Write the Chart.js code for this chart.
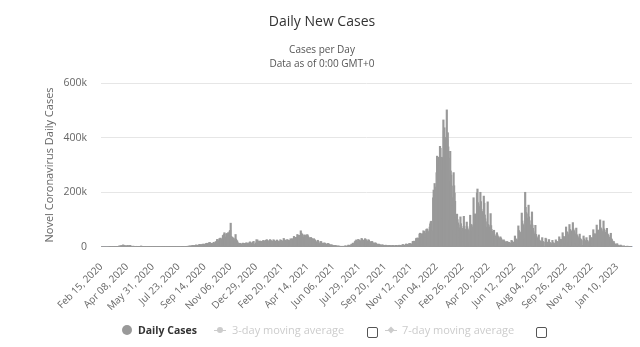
<!DOCTYPE html>
<html>
<head>
<meta charset="utf-8">
<script src="https://cdn.jsdelivr.net/npm/chart.js@4/dist/chart.umd.min.js"></script>
<style>
  html, body { margin: 0; padding: 0; background: #fff; }
  #wrap { position: relative; width: 640px; height: 347px; overflow: hidden; font-family: "Open Sans", sans-serif; }
  #c { position: absolute; left: 0; top: 0; }
  .lg { position: absolute; white-space: nowrap; font-size: 10.5px; line-height: 14px; }
  .box { position: absolute; width: 9px; height: 9px; border: 1px solid #555; border-radius: 2px; background: #fff; }
</style>
</head>
<body>
<div id="wrap">
  <canvas id="c" width="640" height="347"></canvas>
  <div class="lg" style="left:122px;top:325px;width:10px;height:10px;border-radius:50%;background:#999;"></div>
  <div class="lg" style="left:138px;top:323px;color:#333;font-weight:bold;">Daily Cases</div>
  <div class="lg" style="left:214px;top:330px;width:12px;height:1px;background:#ccc;"></div>
  <div class="lg" style="left:217px;top:327px;width:6px;height:6px;border-radius:50%;background:#ccc;"></div>
  <div class="lg" style="left:232px;top:323px;color:#ccc;font-size:11px;">3-day moving average</div>
  <div class="box" style="left:367px;top:327px;"></div>
  <div class="lg" style="left:385px;top:330px;width:12px;height:1px;background:#ccc;"></div>
  <div class="lg" style="left:388px;top:327px;width:6px;height:6px;transform:rotate(45deg) scale(0.8);background:#ccc;"></div>
  <div class="lg" style="left:402px;top:323px;color:#ccc;font-size:11px;">7-day moving average</div>
  <div class="box" style="left:536px;top:327px;"></div>
</div>
<script>
// ---- data (daily new cases, in thousands) ----
const startDate = '2020-02-15';
const cases2020 = [
  0,0,0,0,0,0,0,0,0,0,0,0,0,0,0,
  0,0,0.1,0.1,0.1,0.2,0.3,0.1,0.3,0.4,0.5,0.6,0.8,0.9,0.8,0.9,1.1,1.4,1.9,1.6,1.8,1.6,3.8,2.4,2.9,3.9,3.8,4.6,2.6,4.4,7.6,
  4.9,2.1,5.2,4.3,1.9,1.9,3.8,3.9,4.3,4.8,3.1,2.9,2.5,5.5,4.6,2.6,1.9,1.7,1.1,2.5,2.7,1.5,1.8,1.6,1.4,0.5,2.3,1.4,1.5,0.9,
  0.8,0.7,1.2,0.3,0.6,1.3,3.6,0.6,0.6,0.5,0.4,0.8,0.7,0.6,0.5,0.3,0.4,0.6,0.5,0.6,0.4,0.5,0.3,0.4,0.3,0.3,0.5,0.4,0.5,0.5,0.3,
  0.3,0.3,0.6,0.6,0.5,0.5,0.3,0.4,0.4,0.5,0.5,0.5,0.4,0.4,0.4,0.4,0.5,0.5,0.5,0.4,0.5,0.5,0.5,0.6,0.6,0.5,0.5,0.4,0.5,0.5,
  0.6,0.6,0.6,0.5,0.6,0.5,0.6,0.6,0.7,0.7,0.7,0.7,0.6,0.7,0.7,0.8,0.8,0.9,0.9,0.9,0.9,1.0,1.0,1.1,1.1,1.1,1.0,1.2,1.2,1.3,1.3,
  1.3,1.3,1.4,1.5,1.6,1.7,2.2,2.2,2.3,1.4,2.3,2.5,2.7,2.8,3.2,3.3,1.8,3.2,3.8,4.6,4.6,4.9,4.8,1.9,3.3,5.4,6.1,7.4,5.5,5.4,4.9,
  4.9,7.0,7.2,8.9,8.6,7.1,4.2,6.5,8.6,9.8,9.4,10.6,7.2,6.2,7.9,10.0,10.6,13.2,13.5,10.6,5.3,10.0,13.1,16.1,15.8,14.4,11.1,4.1,12.0,13.0,
  12.8,12.1,17.0,12.6,5.0,10.5,18.7,18.1,20.3,27.0,26.9,8.5,12.9,22.6,30.6,25.1,32.4,29.8,13.2,20.5,26.7,41.6,42.0,45.4,52.0,26.8,33.4,36.4,47.6,49.2,35.6,
  46.3,52.5,36.4,41.0,58.0,60.5,86.9,38.6,20.2,35.9,33.1,25.6,32.1,22.9,27.2,9.4,45.5,28.4,21.2,22.9,17.9,13.2,4.4,9.2,13.6,12.5,12.0,11.0,9.8,4.0,
  8.1,14.1,12.7,12.9,11.5,11.0,3.4,13.7,14.6,14.0,13.7,11.5,10.6,3.1,14.1,17.6,18.3,15.7,12.9,12.0,5.9,11.8,17.7,20.3,9.0,3.1,3.1,11.4,14.9,26.5,19.9
];
const cases2021 = [
  25.4,12.4,3.5,20.2,19.9,21.7,20.0,20.6,15.9,15.9,3.7,21.2,23.9,21.3,21.2,16.6,3.4,23.9,23.6,26.8,22.9,23.1,19.2,18.2,4.2,22.1,26.9,22.9,22.8,21.0,18.3,
  4.3,19.2,26.4,23.3,22.1,20.6,19.7,4.3,18.9,25.4,21.4,21.2,21.0,17.6,4.1,19.6,26.4,22.3,24.1,21.2,19.9,5.6,21.3,31.1,25.4,25.2,23.3,20.2,
  4.3,21.1,26.8,25.3,23.5,23.9,21.3,4.1,22.7,29.9,27.1,25.2,29.8,26.3,6.5,29.9,38.5,34.9,35.1,30.6,29.3,9.0,35.3,45.6,41.9,41.2,42.6,37.0,9.1,40.2,59.0,
  50.7,46.7,46.8,42.6,8.1,32.8,35.9,44.2,40.4,41.1,38.0,9.7,44.9,43.5,38.2,35.1,32.0,29.3,9.9,33.3,34.5,31.2,30.1,26.6,21.2,5.4,30.2,27.2,24.9,22.5,
  16.6,18.1,3.2,19.0,24.3,20.0,14.9,10.8,3.7,2.3,20.0,18.9,13.4,13.5,11.1,8.9,4.9,14.6,14.0,12.0,11.2,9.2,9.1,2.9,10.8,12.8,10.6,10.2,7.6,6.5,1.8,
  7.6,6.8,6.9,6.3,5.0,4.0,1.0,5.1,4.7,4.5,4.2,3.4,2.9,0.9,3.2,3.1,2.8,2.8,2.4,1.9,0.6,2.3,2.4,2.2,2.4,2.0,1.9,0.7,2.8,3.3,
  3.2,3.0,2.5,2.2,0.7,4.6,6.9,4.6,4.9,4.7,4.4,1.9,10.2,9.1,6.5,13.9,10.9,8.8,3.3,18.2,21.5,19.1,25.6,19.9,17.1,5.0,27.5,24.7,24.2,25.0,20.7,
  18.5,6.3,31.2,28.2,24.3,24.5,22.9,22.0,6.3,30.2,28.2,25.3,22.3,20.7,17.2,5.4,26.6,24.2,20.2,18.9,16.6,14.5,4.1,20.2,18.6,14.7,13.6,12.1,10.2,3.1,15.4,
  13.4,11.1,10.0,8.7,7.3,1.8,10.6,9.2,7.6,7.3,6.3,5.2,1.1,7.2,7.7,6.0,5.6,4.9,4.1,0.8,6.3,6.1,5.3,4.9,4.2,3.5,0.6,5.2,5.4,4.4,
  4.0,4.1,3.2,0.6,5.3,5.4,4.4,4.0,3.4,2.9,0.7,5.7,5.4,4.6,4.0,3.4,3.0,0.8,6.0,6.2,5.4,5.0,4.6,4.0,1.1,7.9,8.6,6.2,6.5,5.9,4.2,
  1.4,10.1,10.6,8.4,9.0,8.4,6.0,2.9,12.8,12.1,6.5,11.9,9.3,8.3,4.5,19.8,20.3,17.2,21.2,18.9,14.6,4.8,30.5,32.0,30.0,32.8,31.6,26.6,8.4,47.2,
  50.3,46.4,48.3,44.0,36.9,8.3,48.5,59.2,51.1,56.8,50.0,31.7,8.9,63.4,65.7,65.0,58.5,53.4,30.3,11.4,72.8,84.3,91.6,94.1,58.5,27.8,30.4,179.8,208.1,206.2,232.2
];
const cases2022 = [
  219.1,187.0,67.5,271.7,332.3,261.5,328.2,303.7,296.1,97.0,368.1,361.3,305.3,328.2,327.1,278.1,102.1,464.8,425.2,436.2,400.9,390.7,292.0,110.0,501.6,392.2,418.0,366.2,325.1,240.0,98.9,
  350,278,263,223,180,150,64,272,224,197,167,108,86,46,120,100,88,80,70,60,33,110,85,75,68,58,48,20,
  112,76,65,61,55,20,91,74,66,61,57,46,17,116,83,79,81,73,56,22,180,110,117,121,105,88,37,198,212,162,155,
  148,132,42,200,166,138,130,125,108,41,186,160,117,103,92,72,28,47,165,82,78,72,63,25,122,78,64,57,55,44,
  15,61,45,40,38,34,13,52,44,38,34,31,27,11,37,33,29,25,23,19,7,26,22,19,18,14,3,18,20,17,15,
  17,16,15,13,0,4,24,21,18,17,14,0,6,40,29,25,29,25,0,11,77,60,55,54,50,0,17,124,95,84,
  79,71,0,29,200,145,126,121,106,0,22,153,110,96,81,0,0,24,128,80,68,56,48,0,14,79,46,39,34,32,0,
  10,44,25,22,21,19,0,6,34,20,19,17,0,0,0,32,29,18,17,14,0,5,27,17,15,14,12,0,4,24,15,
  14,14,11,0,4,26,20,20,19,17,0,6,37,28,28,28,26,0,9,52,37,38,37,35,0,13,73,56,54,52,
  45,0,17,82,64,62,58,53,0,18,89,66,60,55,48,0,13,69,45,41,37,32,0,9,47,31,28,26,23,0,6,
  0,40,29,24,22,0,5,34,24,23,0,19,0,5,42,32,31,34,33,0,11,63,45,47,48,47,0,15,80,60,
  60,62,52,0,17,99,70,67,63,56,0,18,95,66,61,54,46,0,13,68,48,45,43,36,0,0,31,50,30,27,22
];
const cases2023 = [
  0,0,20,14,11,9,7,0,3,12,7,6,5,4,0,1.5,7,4,3.5,3,2.5,0,1,4,2.5,2.2,2,1.7,0,0.8,3,
  2,1.8,1.5,1.3,0,0.5,2,1.5,1.3
];
const tickLabels = ['Feb 15, 2020','Apr 08, 2020','May 31, 2020','Jul 23, 2020','Sep 14, 2020','Nov 06, 2020',
  'Dec 29, 2020','Feb 20, 2021','Apr 14, 2021','Jun 06, 2021','Jul 29, 2021','Sep 20, 2021','Nov 12, 2021',
  'Jan 04, 2022','Feb 26, 2022','Apr 20, 2022','Jun 12, 2022','Aug 04, 2022','Sep 26, 2022','Nov 18, 2022','Jan 10, 2023'];
const yTicks = [0, 200000, 400000, 600000];
const titleText = 'Daily New Cases';
const subtitleLines = ['Cases per Day', 'Data as of 0:00 GMT+0'];

const dailyCasesK = [].concat(cases2020, cases2021, cases2022, cases2023);
const dailyCases = dailyCasesK.map(v => Math.round(v * 1000));

// category labels: one per day from startDate
const MONTHS = ['Jan','Feb','Mar','Apr','May','Jun','Jul','Aug','Sep','Oct','Nov','Dec'];
const t0 = Date.parse(startDate + 'T00:00:00Z');
const dayLabels = dailyCases.map((_, i) => {
  const d = new Date(t0 + i * 86400000);
  return MONTHS[d.getUTCMonth()] + ' ' + String(d.getUTCDate()).padStart(2, '0') + ', ' + d.getUTCFullYear();
});

const FONT = '"Open Sans", sans-serif';

const titlesPlugin = {
  id: 'fixedTitles',
  afterDraw(chart) {
    const ctx = chart.ctx;
    ctx.save();
    ctx.textAlign = 'center';
    ctx.textBaseline = 'middle';
    ctx.fillStyle = '#333333';
    ctx.font = '14px ' + FONT;
    ctx.fillText(titleText, 322, 22);
    ctx.fillStyle = '#555555';
    ctx.font = '10px ' + FONT;
    ctx.fillText(subtitleLines[0], 322, 50);
    ctx.fillText(subtitleLines[1], 322, 64);
    ctx.restore();
  }
};

new Chart(document.getElementById('c'), {
  type: 'bar',
  data: {
    labels: dayLabels,
    datasets: [{
      label: 'Daily Cases',
      data: dailyCases,
      backgroundColor: '#999999',
      borderWidth: 0,
      barThickness: 1.5,
    }]
  },
  plugins: [titlesPlugin],
  options: {
    responsive: false,
    devicePixelRatio: 1,
    animation: false,
    events: [],
    layout: { padding: { left: 43, right: 8, top: 83, bottom: 28 } },
    plugins: {
      legend: { display: false },
      tooltip: { enabled: false },
      title: { display: false },
      subtitle: { display: false }
    },
    scales: {
      x: {
        type: 'category',
        offset: true,
        grid: { display: false },
        border: { display: true, color: '#ccd6eb', width: 1 },
        afterBuildTicks: (scale) => {
          scale.ticks = scale.ticks.filter(t => tickLabels.includes(dayLabels[t.value]));
        },
        ticks: {
          autoSkip: false,
          maxRotation: 45,
          minRotation: 45,
          padding: 6,
          color: '#666666',
          font: { family: FONT, size: 10 }
        }
      },
      y: {
        min: 0,
        max: 600000,
        afterBuildTicks: (scale) => { scale.ticks = yTicks.map(v => ({ value: v })); },
        afterFit: (scale) => { scale.width = 58; },
        grid: { color: '#e6e6e6', drawTicks: false },
        border: { display: false },
        title: {
          display: true,
          text: 'Novel Coronavirus Daily Cases',
          color: '#666666',
          font: { family: FONT, size: 11 },
          padding: { top: 0, bottom: 0 }
        },
        ticks: {
          padding: 14,
          color: '#666666',
          font: { family: FONT, size: 10.5 },
          callback: (v) => v === 0 ? '0' : (v / 1000) + 'k'
        }
      }
    }
  }
});
</script>
</body>
</html>
